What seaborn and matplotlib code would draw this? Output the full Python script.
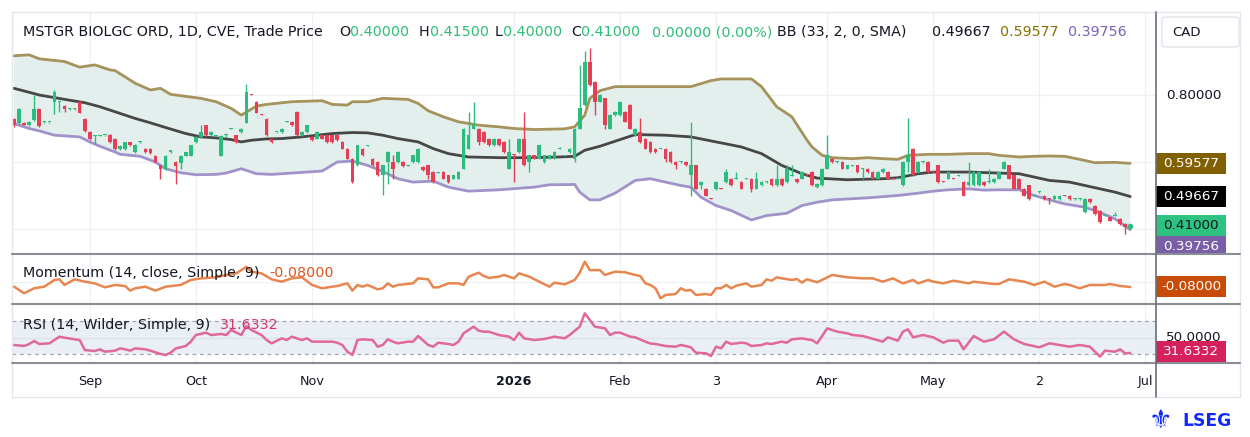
import matplotlib
matplotlib.use("Agg")
import matplotlib.pyplot as plt
from matplotlib.lines import Line2D
from matplotlib.patches import Rectangle, FancyBboxPatch
import numpy as np
import seaborn as sns

# daily candles (CAD), one per trading day
opens = [
    .727, .715, .717, .710, .725, .758, .718, .718, .780, .778,
    .767, .757, .757, .780, .729, .690, .679, .679, .680, .680,
    .670, .639, .639, .659, .629, .659, .640, .640, .619, .590,
    .578, .630, .599, .597, .619, .619, .659, .675, .709, .680,
    .679, .619, .680, .699, .680, .690, .717, .801, .780, .741,
    .729, .670, .689, .690, .719, .720, .749, .680, .690, .675,
    .670, .680, .680, .680, .680, .660, .640, .610, .590, .640,
    .649, .610, .600, .560, .600, .600, .600, .600, .589, .600,
    .600, .585, .590, .570, .567, .570, .560, .550, .550, .580,
    .640, .700, .700, .690, .670, .650, .670, .660, .580, .621,
    .630, .670, .600, .620, .610, .600, .610, .610, .639, .619,
    .630, .610, .700, .770, .900, .840, .780, .790, .700, .740,
    .740, .750, .770, .680, .690, .670, .660, .640, .639, .640,
    .630, .600, .599, .600, .560, .590, .530, .520, .491, .520,
    .521, .540, .550, .549, .540, .549, .550, .520, .530, .539,
    .550, .530, .550, .540, .559, .550, .550, .561, .570, .525,
    .530, .580, .610, .599, .600, .580, .589, .590, .579, .580,
    .570, .550, .570, .570, .551, .549, .530, .600, .640, .570,
    .599, .600, .571, .590, .541, .550, .551, .559, .540, .530,
    .530, .530, .540, .539, .540, .550, .580, .590, .560, .550,
    .520, .530, .499, .509, .500, .491, .490, .490, .501, .500,
    .489, .489, .450, .490, .470, .455, .439, .435, .439, .430,
    .415, .400]
highs = [
    .730, .762, .720, .722, .800, .760, .721, .720, .815, .782,
    .770, .760, .760, .783, .731, .693, .682, .681, .682, .683,
    .672, .650, .661, .661, .653, .662, .642, .642, .621, .592,
    .622, .637, .602, .621, .631, .652, .677, .710, .711, .692,
    .682, .681, .684, .702, .682, .702, .832, .803, .782, .743,
    .731, .672, .691, .702, .721, .722, .751, .692, .711, .677,
    .692, .682, .682, .682, .682, .662, .642, .612, .652, .642,
    .651, .612, .602, .592, .632, .620, .632, .602, .591, .622,
    .642, .587, .592, .572, .569, .572, .562, .562, .572, .702,
    .750, .780, .702, .692, .672, .672, .672, .662, .670, .623,
    .672, .750, .622, .622, .652, .622, .622, .632, .645, .622,
    .642, .702, .890, .930, .940, .842, .802, .792, .742, .752,
    .782, .752, .772, .702, .730, .672, .662, .642, .642, .642,
    .632, .602, .602, .602, .720, .592, .542, .522, .493, .542,
    .523, .580, .552, .570, .542, .552, .552, .570, .542, .542,
    .552, .590, .552, .590, .590, .552, .572, .563, .572, .537,
    .582, .680, .612, .602, .602, .592, .592, .592, .582, .582,
    .572, .572, .582, .572, .553, .552, .602, .730, .642, .602,
    .602, .602, .573, .592, .543, .572, .553, .562, .542, .600,
    .572, .572, .542, .580, .552, .572, .602, .592, .562, .552,
    .522, .532, .502, .512, .502, .493, .502, .502, .503, .502,
    .492, .492, .492, .492, .472, .457, .442, .437, .450, .432,
    .417, .415]
lows = [
    .705, .712, .709, .708, .722, .705, .717, .716, .743, .750,
    .750, .756, .756, .745, .690, .665, .655, .678, .679, .657,
    .636, .637, .637, .648, .627, .658, .628, .625, .597, .550,
    .576, .628, .533, .580, .618, .617, .657, .673, .678, .678,
    .678, .617, .676, .698, .658, .688, .715, .799, .745, .739,
    .678, .658, .688, .688, .718, .707, .678, .678, .688, .663,
    .668, .668, .657, .658, .663, .638, .608, .538, .588, .618,
    .648, .588, .558, .503, .533, .550, .598, .585, .588, .598,
    .598, .573, .550, .538, .566, .548, .538, .548, .548, .578,
    .638, .698, .650, .658, .648, .648, .648, .628, .578, .540,
    .628, .588, .570, .608, .608, .598, .608, .608, .638, .618,
    .628, .600, .698, .768, .828, .740, .778, .700, .698, .738,
    .738, .718, .698, .678, .658, .638, .628, .628, .638, .600,
    .598, .580, .598, .588, .500, .518, .520, .498, .489, .515,
    .519, .538, .528, .548, .518, .548, .510, .518, .528, .538,
    .528, .528, .528, .538, .558, .538, .548, .559, .528, .523,
    .528, .578, .598, .598, .578, .578, .588, .568, .550, .568,
    .548, .548, .568, .548, .549, .548, .528, .570, .558, .568,
    .598, .568, .569, .538, .539, .548, .549, .558, .498, .528,
    .528, .528, .528, .538, .538, .548, .578, .548, .518, .518,
    .498, .488, .498, .508, .488, .475, .488, .488, .499, .488,
    .488, .488, .448, .478, .443, .418, .438, .423, .438, .413,
    .385, .400]
closes = [
    .710, .758, .711, .719, .758, .708, .719, .719, .810, .779,
    .758, .758, .758, .747, .693, .670, .680, .680, .681, .660,
    .638, .647, .659, .650, .651, .660, .630, .627, .599, .578,
    .619, .635, .587, .619, .629, .650, .675, .690, .680, .690,
    .680, .679, .681, .700, .660, .700, .810, .800, .747, .740,
    .680, .660, .690, .700, .720, .709, .680, .690, .709, .665,
    .690, .670, .659, .660, .665, .640, .610, .540, .650, .620,
    .650, .590, .560, .590, .630, .580, .630, .587, .590, .620,
    .640, .575, .560, .540, .568, .550, .540, .560, .570, .700,
    .680, .710, .660, .660, .650, .670, .650, .630, .630, .620,
    .670, .590, .620, .610, .650, .620, .620, .630, .640, .620,
    .640, .700, .760, .900, .830, .780, .800, .710, .740, .750,
    .780, .720, .700, .700, .660, .640, .630, .630, .640, .610,
    .600, .590, .600, .590, .590, .520, .540, .500, .490, .540,
    .520, .570, .530, .550, .520, .550, .520, .550, .540, .540,
    .530, .550, .530, .580, .560, .540, .570, .560, .530, .535,
    .580, .620, .600, .600, .580, .590, .590, .570, .580, .570,
    .550, .570, .580, .550, .550, .550, .600, .620, .560, .600,
    .600, .570, .570, .540, .540, .570, .550, .560, .500, .540,
    .570, .570, .530, .540, .550, .570, .600, .550, .520, .520,
    .500, .490, .500, .510, .490, .490, .500, .500, .500, .490,
    .490, .490, .490, .480, .445, .420, .440, .425, .440, .415,
    .405, .410]

# Bollinger bands (33, 2), by bar number
bb_upper_x = [0, 3, 5, 10, 13, 16, 19, 20, 24, 27, 29, 31, 37, 40, 43, 45, 48, 50, 55, 61,
              63, 66, 67, 70, 73, 78, 80, 82, 85, 88, 92, 96, 99, 103, 109, 111, 113, 114, 116, 119,
              126, 134, 138, 140, 146, 148, 151, 154, 157, 158, 160, 162, 166, 169, 172, 175, 177, 181, 185, 189,
              193, 195, 199, 202, 205, 208, 211, 214, 218, 221]
bb_upper = [.917, .920, .908, .900, .883, .890, .875, .873, .835, .815, .820, .802, .790, .780, .760, .740, .767, .772, .780, .783,
            .772, .770, .780, .780, .790, .787, .775, .753, .735, .720, .710, .705, .700, .697, .699, .705, .740, .790, .813, .825,
            .825, .825, .843, .848, .848, .825, .765, .735, .665, .645, .620, .613, .610, .613, .610, .608, .620, .623, .623, .625,
            .625, .620, .615, .617, .618, .617, .608, .598, .599, .596]
bb_mid_x = [0, 5, 10, 14, 17, 20, 24, 27, 30, 34, 37, 40, 43, 45, 47, 50, 53, 57, 60, 63,
            67, 70, 73, 76, 80, 83, 86, 90, 96, 103, 108, 111, 113, 116, 119, 123, 129, 134, 139, 144,
            148, 152, 156, 159, 165, 172, 175, 179, 182, 189, 195, 199, 202, 205, 209, 212, 215, 218, 221]
bb_mid = [.820, .800, .787, .777, .765, .750, .730, .717, .703, .685, .675, .672, .667, .660, .665, .669, .670, .675, .680, .685,
          .688, .687, .680, .670, .660, .640, .625, .615, .613, .613, .615, .617, .635, .647, .662, .682, .680, .675, .660, .645,
          .625, .590, .565, .552, .547, .550, .553, .565, .570, .570, .567, .565, .555, .545, .540, .530, .520, .510, .497]
bb_lower_x = [0, 3, 5, 8, 13, 15, 17, 20, 21, 25, 28, 30, 33, 36, 40, 42, 45, 48, 51, 55,
              61, 64, 67, 70, 73, 76, 79, 83, 86, 90, 96, 103, 106, 111, 112, 114, 116, 119, 123, 126,
              129, 132, 134, 136, 139, 142, 146, 149, 153, 156, 159, 162, 169, 175, 179, 182, 185, 189, 192, 195,
              199, 202, 205, 208, 212, 215, 218, 221]
bb_lower = [.715, .700, .693, .680, .675, .660, .647, .630, .623, .617, .600, .580, .568, .562, .563, .567, .580, .565, .563, .567,
            .573, .600, .603, .590, .572, .550, .540, .543, .525, .513, .517, .525, .532, .533, .510, .487, .487, .507, .545, .550,
            .540, .530, .525, .495, .470, .455, .427, .440, .447, .470, .480, .487, .493, .500, .507, .513, .517, .520, .516, .517,
            .517, .500, .487, .475, .465, .450, .430, .398]

# Momentum (14, close)
mom_x = [0, 2, 4, 6, 8, 9, 10, 12, 14, 16, 18, 20, 22, 23, 24, 26, 28, 30, 33, 35,
         37, 40, 42, 44, 45, 46, 47, 49, 51, 53, 55, 57, 59, 61, 63, 64, 66, 67, 68, 69,
         70, 72, 73, 74, 75, 76, 79, 80, 82, 83, 84, 86, 88, 89, 90, 92, 93, 94, 96, 97,
         99, 100, 102, 104, 106, 107, 109, 111, 112, 113, 114, 116, 117, 119, 121, 123, 124, 125, 126, 127,
         128, 129, 131, 132, 133, 134, 135, 137, 138, 139, 140, 141, 142, 143, 145, 146, 148, 149, 150, 151,
         152, 154, 155, 156, 157, 158, 159, 162, 165, 168, 170, 172, 174, 176, 178, 179, 181, 182, 184, 186,
         189, 190, 194, 195, 197, 200, 202, 204, 206, 208, 209, 211, 213, 216, 217, 219, 221]
mom = [-.075, -.177, -.100, -.075, .028, .038, -.049, .038, .002, -.024, -.085, -.049, -.065, -.136, -.100, -.075, -.136, -.075, -.049, .028,
       .053, .069, .105, .130, .180, .230, .156, .130, .038, .002, .053, .069, -.049, -.100, -.075, -.065, -.024, -.136, -.049, -.075,
       -.049, -.116, -.100, -.024, -.075, -.049, -.024, .053, .038, -.085, -.085, -.024, -.024, -.049, .079, .140, .089, .060, .079, .105,
       .053, .130, .079, .002, -.075, -.013, -.039, .028, .140, .310, .180, .180, .105, .156, .146, .105, .089, -.024, -.049, -.100,
       -.254, -.203, -.188, -.100, -.136, -.126, -.203, -.188, -.203, -.100, -.100, -.049, -.100, -.060, -.024, -.075, -.049, .038, .017, .069,
       .053, .028, .043, -.013, .038, .017, -.008, .105, .069, .053, .053, .002, .053, -.024, .028, -.024, .028, .002, -.024, .017,
       -.024, .002, -.034, -.034, .038, .002, -.049, .002, -.075, -.034, -.049, -.100, -.049, -.049, -.034, -.065, -.080]

# RSI (14, Wilder)
rsi_x = [0, 2, 3, 4, 5, 7, 8, 9, 10, 12, 13, 14, 16, 17, 18, 20, 21, 22, 23, 24,
         26, 27, 29, 30, 31, 32, 34, 35, 36, 38, 39, 41, 42, 43, 45, 46, 47, 49, 50, 51,
         53, 54, 55, 57, 58, 59, 61, 63, 64, 65, 66, 67, 68, 69, 71, 72, 73, 74, 75, 76,
         78, 79, 80, 82, 83, 84, 86, 87, 88, 89, 91, 92, 93, 94, 96, 98, 99, 100, 101, 103,
         105, 107, 109, 110, 112, 113, 114, 115, 117, 118, 119, 120, 122, 123, 125, 126, 127, 129, 131, 132,
         133, 134, 135, 137, 138, 139, 140, 141, 142, 144, 145, 146, 148, 149, 150, 152, 153, 154, 156, 157,
         158, 159, 160, 161, 163, 165, 166, 168, 169, 172, 173, 175, 176, 177, 178, 180, 182, 184, 185, 187,
         188, 190, 192, 194, 196, 198, 200, 203, 205, 207, 209, 211, 213, 215, 216, 218, 219, 220, 221]
rsi = [41.2, 40.0, 42.4, 46.0, 42.4, 43.2, 47.2, 51.2, 50.0, 48.0, 47.2, 35.2, 34.0, 36.0, 33.2, 34.4, 37.2, 36.0, 34.4, 37.2,
       36.0, 34.4, 30.4, 29.2, 32.0, 37.0, 40.0, 45.2, 53.2, 56.0, 53.2, 54.4, 53.2, 59.2, 53.2, 64.0, 59.2, 53.2, 47.2, 43.2,
       49.2, 47.2, 51.2, 47.2, 49.2, 45.2, 45.2, 45.2, 44.0, 41.2, 33.2, 29.2, 47.2, 48.0, 47.2, 39.2, 41.2, 48.0, 45.2, 43.2,
       45.2, 45.2, 52.0, 41.2, 39.2, 44.0, 42.4, 41.2, 45.2, 55.2, 63.2, 58.4, 57.2, 57.2, 53.2, 51.2, 47.2, 56.0, 49.2, 47.2,
       48.4, 51.2, 49.2, 53.2, 63.2, 79.2, 71.2, 63.2, 61.2, 53.2, 56.0, 56.0, 51.2, 50.4, 45.2, 43.0, 42.4, 40.0, 39.2, 41.2,
       40.0, 38.4, 32.0, 31.2, 28.0, 39.2, 37.2, 45.2, 42.4, 44.0, 43.2, 40.0, 41.2, 43.2, 42.4, 45.2, 44.0, 48.0, 49.2, 48.0,
       47.2, 43.2, 52.0, 61.2, 57.2, 55.2, 53.2, 52.0, 50.4, 45.2, 50.4, 46.4, 57.2, 60.0, 50.4, 53.2, 50.4, 44.0, 46.4, 46.4,
       36.0, 52.0, 45.2, 48.0, 57.2, 48.0, 42.4, 38.4, 43.2, 41.2, 39.2, 41.2, 39.2, 27.2, 34.4, 33.2, 36.0, 31.2, 31.6]

tick_pos = [15, 36, 59, 99, 120, 139, 161, 182, 203, 224]
tick_lbl = ["Sep", "Oct", "Nov", "2026", "Feb", "3", "Apr", "May", "2", "Jul"]

GREEN = "#2bbd7e"
RED = "#e63e55"
TXT = "#131722"
GRID = "#eef0f4"

sns.set_style("white")
plt.rcParams["font.family"] = ["DejaVu Sans"]

W, H = 1250, 437
fig = plt.figure(figsize=(W / 100, H / 100), dpi=100)
fig.patch.set_facecolor("white")


def fx(px):
    return px / W


def fy(py):
    return 1 - py / H


LEFT, RIGHT = 12, 1156


def pane(top, bottom):
    a = fig.add_axes([fx(LEFT), fy(bottom), fx(RIGHT) - fx(LEFT), fy(top) - fy(bottom)])
    a.set_xlim(-0.4, 226.1)
    for s in a.spines.values():
        s.set_visible(False)
    a.set_yticks([])
    a.set_xticks([])
    for t in tick_pos:
        a.axvline(t, color=GRID, lw=0.9, zorder=0)
    return a


ax_p = pane(12, 254)
ax_m = pane(254, 304)
ax_r = pane(304, 363)
ax_p.set_ylim(0.3254, 1.0478)
ax_m.set_ylim(-0.342, 0.428)
ax_r.set_ylim(19.6, 90.4)

# --- price pane
for v in (0.4, 0.6, 0.8):
    ax_p.axhline(v, color=GRID, lw=0.9, zorder=0)
ax_p.fill(np.r_[bb_upper_x, bb_lower_x[::-1]], np.r_[bb_upper, bb_lower[::-1]],
          color="#e3efed", lw=0, zorder=1)
sns.lineplot(x=bb_upper_x, y=bb_upper, ax=ax_p, color="#a6925b", lw=2.0, zorder=2, legend=False)
sns.lineplot(x=bb_mid_x, y=bb_mid, ax=ax_p, color="#474747", lw=2.0, zorder=2, legend=False)
sns.lineplot(x=bb_lower_x, y=bb_lower, ax=ax_p, color="#a192c9", lw=2.0, zorder=2, legend=False)

o, h, l, c = (np.array(a) for a in (opens, highs, lows, closes))
x = np.arange(len(c))
col = np.where(c >= o, GREEN, RED)
ax_p.vlines(x, l, h, colors=col, lw=1.0, zorder=3)
ax_p.bar(x, np.maximum(np.abs(c - o), 0.003), bottom=np.minimum(o, c), width=0.72,
         color=col, lw=0, zorder=4)
ax_p.scatter([x[-1]], [c[-1]], s=16, color=GREEN, zorder=5, lw=0)
ax_p.set_xlabel("")
ax_p.set_ylabel("")

# --- momentum pane
ax_m.axhline(0, color=GRID, lw=0.9, zorder=0)
sns.lineplot(x=mom_x, y=mom, ax=ax_m, color="#e8864f", lw=1.8, legend=False)
ax_m.set_xlabel("")
ax_m.set_ylabel("")

# --- rsi pane
ax_r.axhspan(30, 70, color="#e9eff5", lw=0, zorder=0)
ax_r.axhline(50, color="#dde3ea", lw=0.9, zorder=0)
for v in (30, 70):
    ax_r.axhline(v, color="#a3a6ad", lw=0.9, ls=(0, (3, 3)), zorder=1)
sns.lineplot(x=rsi_x, y=rsi, ax=ax_r, color="#e0689a", lw=1.8, legend=False)
ax_r.set_xlabel("")
ax_r.set_ylabel("")
ax_r.set_xticks(tick_pos)
ax_r.set_xticklabels(tick_lbl)
ax_r.tick_params(axis="x", length=0, pad=8.5, labelsize=9.2, labelcolor=TXT)
for lbl in ax_r.get_xticklabels():
    if lbl.get_text() == "2026":
        lbl.set_fontweight("bold")

# --- frame lines
def fline(xs, ys, color, lw):
    fig.add_artist(Line2D([fx(v) for v in xs], [fy(v) for v in ys], color=color, lw=lw,
                          transform=fig.transFigure))


fline([12, 1240], [12, 12], "#e3e6ec", 1.0)
fline([12, 12], [12, 397], "#e3e6ec", 1.0)
fline([1240, 1240], [12, 397], "#e3e6ec", 1.0)
fline([12, 1240], [397, 397], "#e3e6ec", 1.0)
for yy in (254, 304, 363):
    fline([12, 1240], [yy, yy], "#8a8d95", 1.5)
fline([1156, 1156], [12, 397], "#6b6e78", 1.2)

renderer = fig.canvas.get_renderer()


def chain(x0, y0, parts, size=10.3, gap=0):
    xx = x0
    for s, colr in parts:
        t = fig.text(fx(xx), fy(y0), s, color=colr, fontsize=size, ha="left", va="center")
        xx += t.get_window_extent(renderer).width + gap
    return xx


HG = "#2fbd76"
chain(23, 32, [("MSTGR BIOLGC ORD, 1D, CVE, Trade Price", TXT)])
chain(339, 32, [("O", TXT), ("0.40000", HG)])
chain(419, 32, [("H", TXT), ("0.41500", HG)])
chain(495, 32, [("L", TXT), ("0.40000", HG)])
chain(571, 32, [("C", TXT), ("0.41000", HG)])
chain(652, 32, [("0.00000 (0.00%)", HG)])
chain(777, 32, [("BB (33, 2, 0, SMA)", TXT)])
chain(932, 32, [("0.49667", TXT)])
chain(1000, 32, [("0.59577", "#8a7000")])
chain(1068, 32, [("0.39756", "#7b63b6")])

chain(23, 273, [("Momentum (14, close, Simple, 9)", TXT), ("-0.08000", "#de571f")], gap=10)
chain(23, 325, [("RSI (14, Wilder, Simple, 9)", TXT), ("31.6332", "#d8346c")], gap=10)

# --- right scale
def ypx(a, v):
    return H - a.transData.transform((0, v))[1]


fig.text(fx(1166), fy(ypx(ax_p, 0.8)), "0.80000", fontsize=9.7, color=TXT, ha="left", va="center")
fig.text(fx(1166), fy(ypx(ax_r, 50)), "50.0000", fontsize=9.7, color=TXT, ha="left", va="center",
         zorder=0.5)


def value_box(yc, text, bg, fg, top, bottom):
    y0 = max(yc - 10.5, top + 1)
    y1 = min(yc + 10.5, bottom - 0.5)
    fig.add_artist(Rectangle((fx(1156), fy(y1)), fx(1226) - fx(1156), (y1 - y0) / H,
                             transform=fig.transFigure, fc=bg, ec="none", zorder=1))
    fig.text(fx(1191), fy(yc), text, fontsize=9.7, color=fg, ha="center", va="center", zorder=3)


price_boxes = [(bb_upper[-1], "0.59577", "#806000", "white"),
               (bb_mid[-1] - 0.00033, "0.49667", "#000000", "white"),
               (closes[-1], "0.41000", "#2dc27f", TXT),
               (bb_lower[-1] - 0.00044, "0.39756", "#7a5ea8", "white")]
last = -1e9
for v, t, bg, fg in sorted(price_boxes, key=lambda b: -b[0]):
    yc = max(ypx(ax_p, v), last + 21)
    last = yc
    value_box(yc, t, bg, fg, 12, 254)

yc = min(ypx(ax_m, mom[-1]), 304 - 11.5)
value_box(yc, "-0.08000", "#c94b08", "white", 254, 304)
yc = min(ypx(ax_r, rsi[-1]), 363 - 11.5)
value_box(yc, "31.6332", "#d5205b", "white", 304, 363)

# currency box
fig.add_artist(FancyBboxPatch((fx(1162), fy(47)), fx(1239) - fx(1162), 30 / H,
                              boxstyle="round,pad=0,rounding_size=0.004",
                              transform=fig.transFigure, fc="white", ec="#e0e3eb", lw=1.0))
fig.text(fx(1172), fy(32), "CAD", fontsize=9.5, color=TXT, ha="left", va="center")

# brand mark
fig.text(fx(1160), fy(421), "\u269c", fontsize=19, color="#1129ff", ha="center", va="center")
fig.text(fx(1182), fy(421), "LSEG", fontsize=12.3, fontweight="bold", color="#1129ff",
         ha="left", va="center")

fig.savefig("out.png", dpi=100, facecolor="white")
